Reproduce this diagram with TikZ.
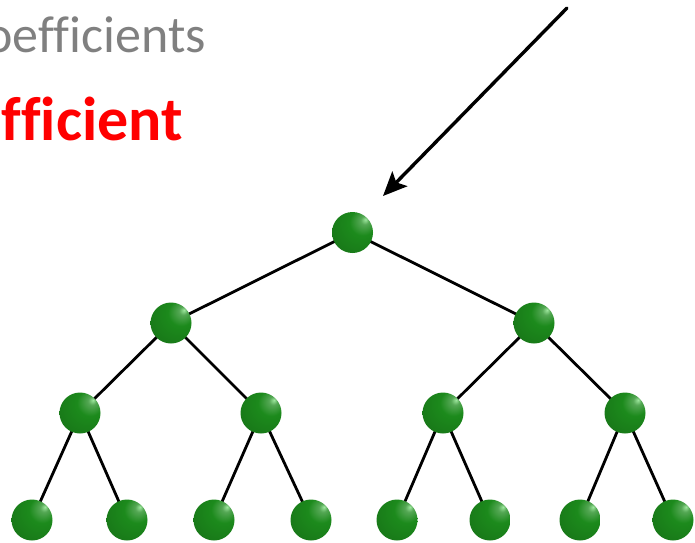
\documentclass[tikz,border=0pt]{standalone}
\usepackage{fontspec}
\setmainfont{Carlito}[Ligatures={NoCommon}]
\usetikzlibrary{arrows.meta}
\definecolor{ballgreen}{RGB}{28,138,28}
\definecolor{grayText}{RGB}{128,128,128}
\pgfdeclareradialshading{gball}{\pgfpoint{16bp}{16bp}}{%
  color(0bp)=(green!25!white!80!ballgreen);
  color(5bp)=(ballgreen!75!white);
  color(16bp)=(ballgreen);
  color(40bp)=(ballgreen!85!black);
  color(62bp)=(ballgreen!55!black);
  color(70bp)=(ballgreen!50!black)}
\tikzset{
  ball/.style={circle, minimum size=41pt, inner sep=0pt, shading=gball},
  edge/.style={line width=2.8pt, black},
  pointer/.style={line width=3.4pt, black, line cap=round, -{Stealth[length=24pt, width=21pt, inset=5pt]}}
}
\begin{document}
\begin{tikzpicture}[x=1pt,y=-1pt]
\useasboundingbox (0,0) rectangle (695,542);
\begin{scope}
\clip (0,0) rectangle (695,542);
\node[anchor=base east, text=grayText, font=\fontsize{52}{60}\selectfont, inner sep=0pt] (t1) at (206,52) {oefficients};
\node[anchor=base east, text=red, font=\fontsize{62}{72}\selectfont\bfseries, inner sep=0pt] (t2) at (183,140) {fficient};
\end{scope}
% node positions
\coordinate (p0) at (352.5,232.5);
\coordinate (p1) at (171,323);
\coordinate (p2) at (534,323);
\coordinate (p3) at (80,413);
\coordinate (p4) at (261,413);
\coordinate (p5) at (443,413);
\coordinate (p6) at (625,413);
\coordinate (p7) at (32,520);
\coordinate (p8) at (127,520);
\coordinate (p9) at (214,520);
\coordinate (p10) at (311,520);
\coordinate (p11) at (397,520);
\coordinate (p12) at (490,520);
\coordinate (p13) at (580,520);
\coordinate (p14) at (673,520);
% edges
\draw[edge] (p0)--(p1) (p0)--(p2)
  (p1)--(p3) (p1)--(p4) (p2)--(p5) (p2)--(p6)
  (p3)--(p7) (p3)--(p8) (p4)--(p9) (p4)--(p10)
  (p5)--(p11) (p5)--(p12) (p6)--(p13) (p6)--(p14);
% balls
\foreach \i in {0,...,14} {\node[ball] (b\i) at (p\i) {};}
% arrow
\coordinate (from) at (567,8);
\coordinate (to) at (383,196);
\draw[pointer] (from) -- (to);
\end{tikzpicture}
\end{document}
